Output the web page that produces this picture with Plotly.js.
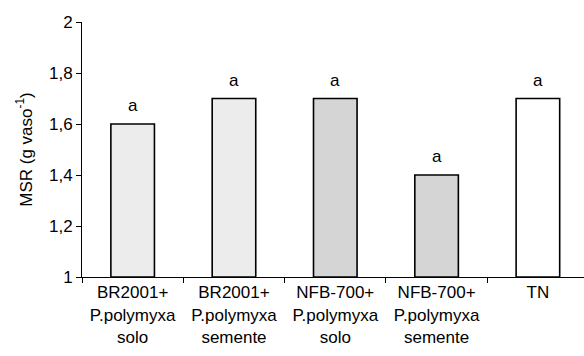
<!DOCTYPE html>
<html><head><meta charset="utf-8">
<script src="https://cdn.plot.ly/plotly-3.0.1.min.js"></script>
<style>html,body{margin:0;padding:0;background:#fff}</style>
</head><body><div id="chart" style="width:584px;height:356px"></div>
<script>
const categories = ["BR2001+<br>P.polymyxa<br>solo", "BR2001+<br>P.polymyxa<br>semente", "NFB-700+<br>P.polymyxa<br>solo", "NFB-700+<br>P.polymyxa<br>semente", "TN"];
const values = [1.6, 1.7, 1.7, 1.4, 1.7];
const letters = ["a", "a", "a", "a", "a"];
const fillColors = ["#ececec", "#ececec", "#d5d5d5", "#d5d5d5", "#ffffff"];
const yTicks = [1, 1.2, 1.4, 1.6, 1.8, 2];
const baseValue = 1;

const FONT = 'Arial, "Liberation Sans", sans-serif';
const FS = 17;

const trace = {
  type: 'bar',
  x: categories,
  y: values.map(v => v - baseValue),
  base: baseValue,
  width: 0.43,
  marker: {
    color: fillColors,
    line: {color: '#000', width: 1.6}
  },
  hoverinfo: 'none'
};

const annotations = categories.map((c, i) => ({
  x: c, y: values[i], xref: 'x', yref: 'y',
  text: letters[i], showarrow: false,
  yanchor: 'bottom', yshift: 7,
  font: {family: FONT, size: FS, color: '#000'}
}));

const layout = {
  width: 584, height: 356,
  margin: {l: 82, r: 0, t: 22, b: 79, pad: 0},
  paper_bgcolor: '#fff', plot_bgcolor: '#fff',
  separators: ', ',
  showlegend: false,
  font: {family: FONT, size: FS, color: '#000'},
  annotations: annotations,
  xaxis: {
    type: 'category',
    range: [-0.5, 4.455],
    showline: true, linecolor: '#000', linewidth: 1,
    ticks: 'outside', ticklen: 5, tickcolor: '#000', tickson: 'boundaries',
    showgrid: false, zeroline: false,
    automargin: false,
    tickfont: {family: FONT, size: FS}
  },
  yaxis: {
    range: [1, 2],
    tickvals: yTicks,
    showline: true, linecolor: '#000', linewidth: 1,
    ticks: 'outside', ticklen: 5, tickcolor: '#000',
    showgrid: false, zeroline: false,
    automargin: false,
    tickfont: {family: FONT, size: FS},
    title: {text: 'MSR (g vaso<sup>-1</sup>)', font: {family: FONT, size: FS}, standoff: 12}
  }
};
Plotly.newPlot('chart', [trace], layout, {displayModeBar: false, staticPlot: true});
</script>
</body></html>
